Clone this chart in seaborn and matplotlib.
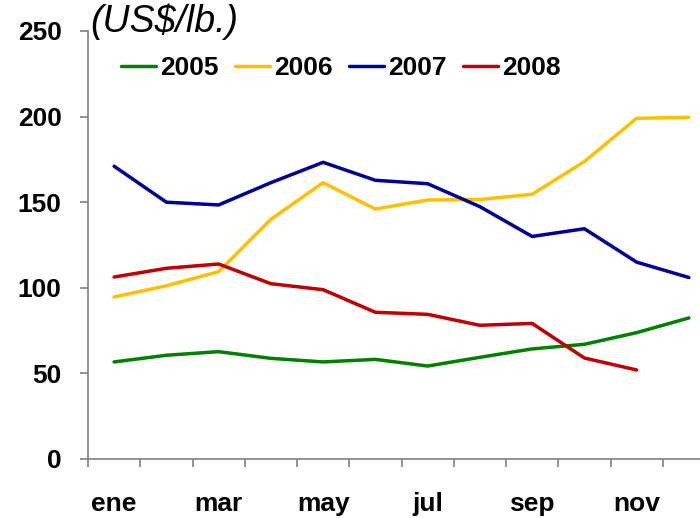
import numpy as np
import pandas as pd
import matplotlib
matplotlib.use('Agg')
import matplotlib.pyplot as plt
import seaborn as sns

# months (Spanish abbreviations), only every other one is labelled
months = ['ene', 'feb', 'mar', 'abr', 'may', 'jun',
          'jul', 'ago', 'sep', 'oct', 'nov', 'dic']
years = ['2005', '2006', '2007', '2008']

# prices in US$/lb.
p2005 = [56.7, 60.6, 62.7, 58.8, 56.7, 58.2, 54.3, 59.4, 64.3, 67.0, 73.8, 82.4]
p2006 = [94.6, 101.2, 109.4, 140.0, 161.4, 146.0, 151.3, 151.6, 154.6, 173.7, 199.0, 199.6]
p2007 = [171.0, 150.0, 148.4, 161.4, 173.3, 162.8, 160.8, 147.4, 130.0, 134.5, 115.0, 106.0]
p2008 = [106.3, 111.4, 113.9, 102.4, 98.9, 85.7, 84.5, 78.1, 79.2, 59.0, 52.0, np.nan]

colors = ['#008000', '#FFC000', '#000099', '#C00000']

df = pd.DataFrame({
    'mes': list(range(12)) * 4,
    'precio': p2005 + p2006 + p2007 + p2008,
    'anio': [y for y in years for _ in months],
})

sns.set_style('white')
plt.rcParams['font.family'] = ['Liberation Sans', 'DejaVu Sans']
plt.rcParams['text.color'] = 'black'
plt.rcParams['xtick.labelcolor'] = 'black'
plt.rcParams['ytick.labelcolor'] = 'black'

fig = plt.figure(figsize=(7, 5.18), dpi=100)
# plot area runs past the right edge as in the original
ax = fig.add_axes([88 / 700, 59 / 518, 627 / 700, 428 / 518])

sns.lineplot(data=df, x='mes', y='precio', hue='anio', palette=colors,
             linewidth=2.5, ax=ax, legend=True)

ax.set_xlim(-0.5, 11.5)
ax.set_ylim(0, 250)
ax.set_yticks([0, 50, 100, 150, 200, 250])
ax.set_xticks(range(0, 12, 2))
ax.set_xticklabels(months[::2])
ax.set_xticks(np.arange(-0.5, 12, 1), minor=True)
ax.set_xlabel('')
ax.set_ylabel('')

for side in ['top', 'right']:
    ax.spines[side].set_visible(False)
for side in ['left', 'bottom']:
    ax.spines[side].set_color('#808080')
    ax.spines[side].set_linewidth(1.2)

ax.tick_params(axis='y', which='major', direction='out', length=6, width=1.2,
               color='#808080', pad=13, left=True, labelsize=19,
               labelcolor='black')
ax.tick_params(axis='x', which='major', length=0, pad=24, labelsize=19,
               labelcolor='black')
ax.tick_params(axis='x', which='minor', direction='out', length=6, width=1.2,
               color='#808080', bottom=True)
for lbl in ax.get_xticklabels() + ax.get_yticklabels():
    lbl.set_fontweight('bold')

handles, labels = ax.get_legend_handles_labels()
ax.legend(handles, labels, ncol=4, frameon=False, loc='center left',
          bbox_to_anchor=(121 / 700, 1 - 68 / 518),
          bbox_transform=fig.transFigure, borderpad=0, borderaxespad=0,
          handlelength=1.33, handletextpad=0.15, columnspacing=0.62,
          labelcolor='black', prop={'size': 19, 'weight': 'bold'})

fig.text(90 / 700, 1 - 32 / 518, '(US$/lb.)', fontsize=27, style='italic',
         color='black', ha='left', va='baseline')

fig.savefig('out.png', dpi=100)
